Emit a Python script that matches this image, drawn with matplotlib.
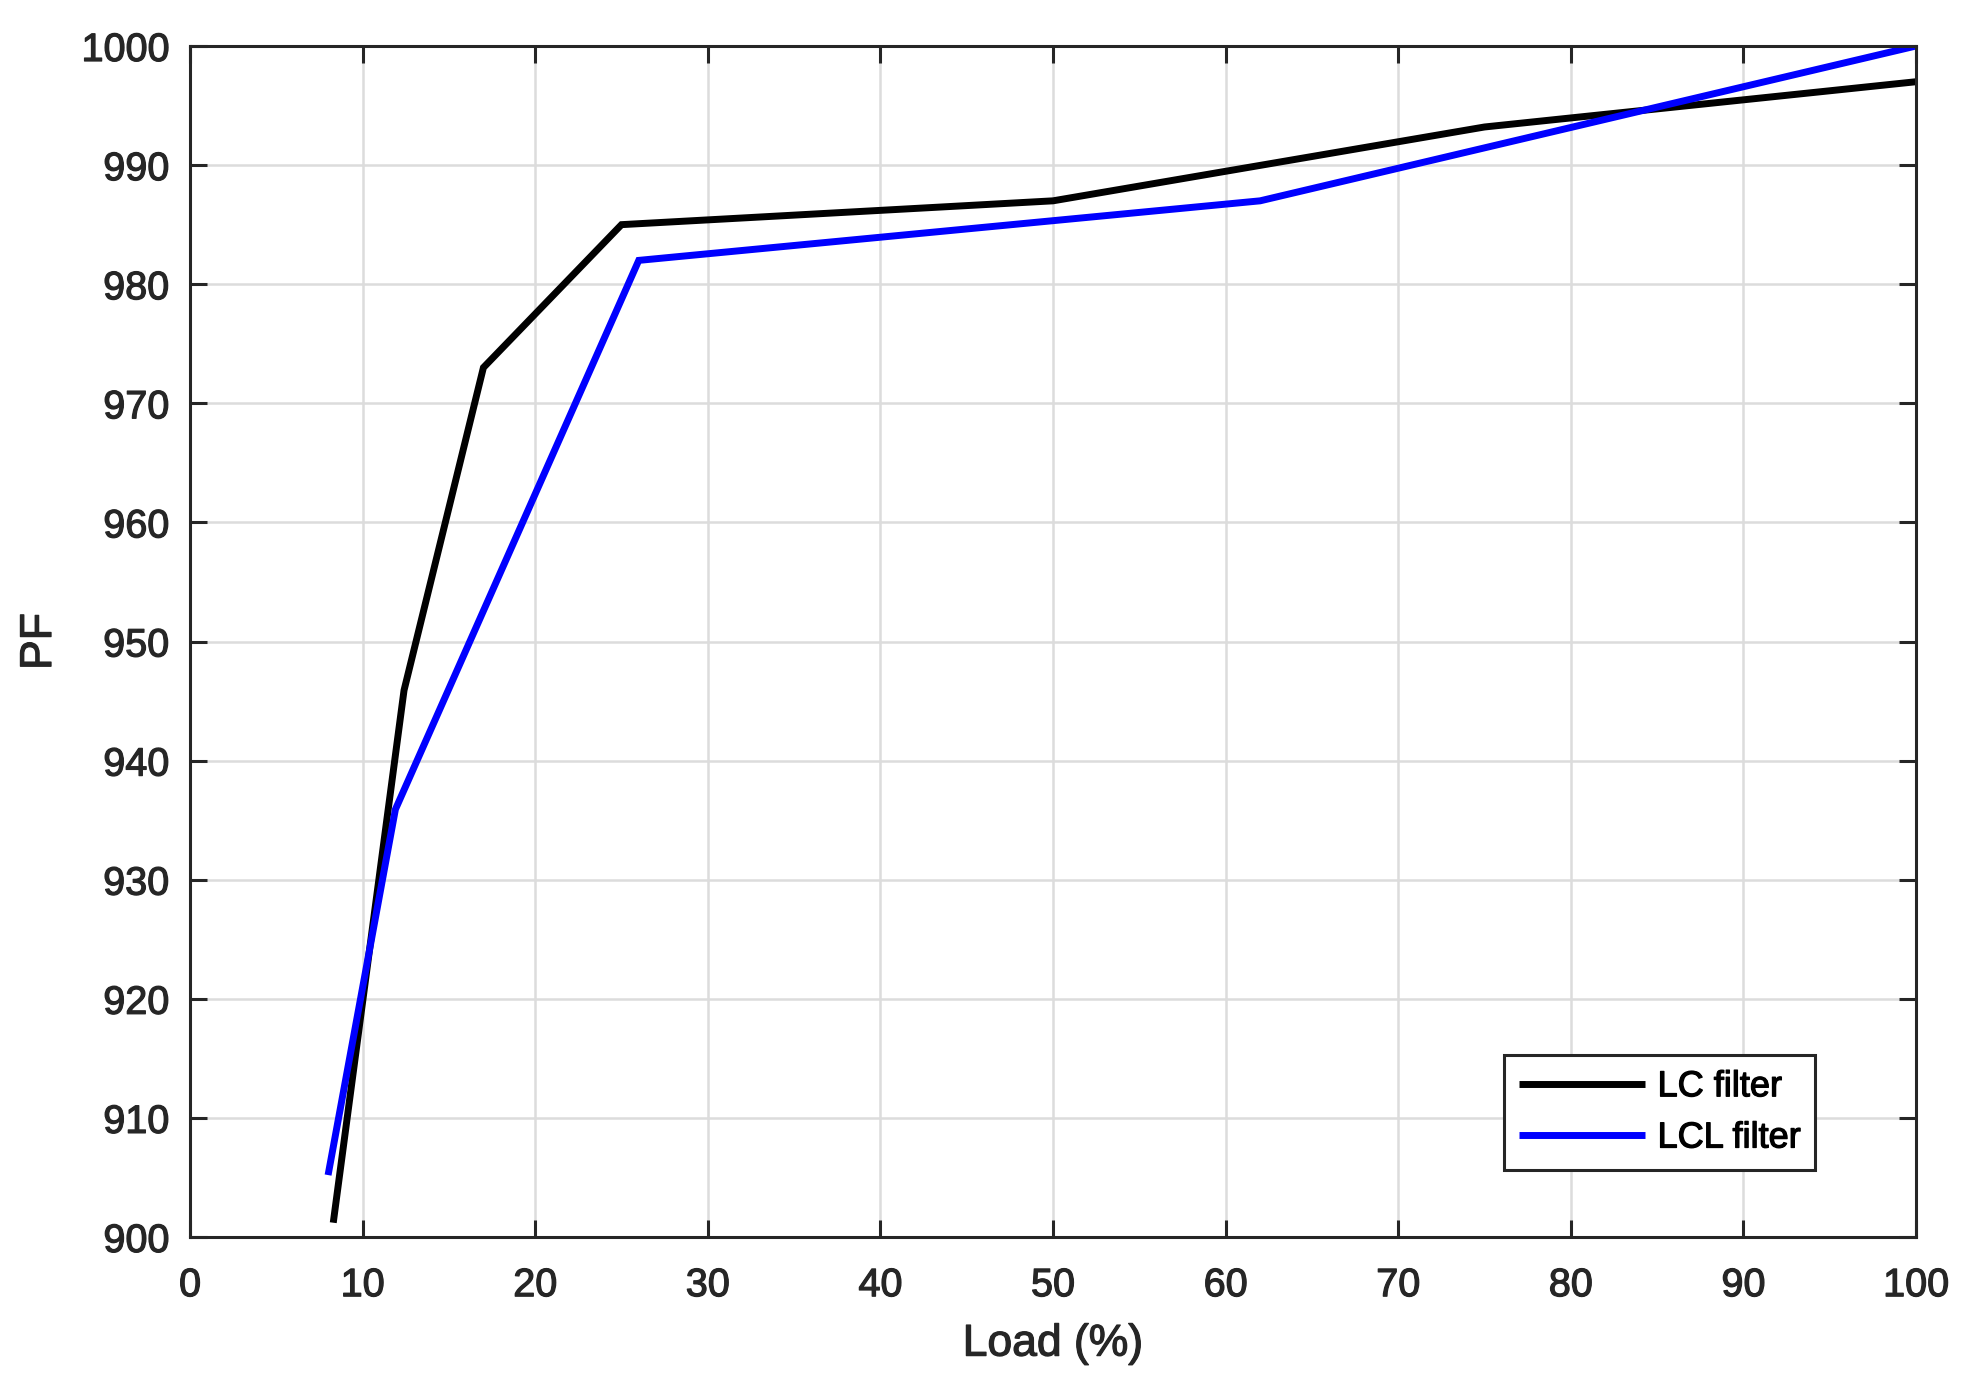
import matplotlib
matplotlib.use("Agg")
import matplotlib.pyplot as plt
import matplotlib.patheffects as pe

plt.rcParams['font.family'] = ['Liberation Sans', 'DejaVu Sans']

# Data
lc_load = [8.3, 12.4, 17, 25, 50, 75, 100]
lc_pf = [901.2, 945.9, 973, 985, 987, 993.2, 997]
lcl_load = [8.0, 11.9, 26, 62, 100]
lcl_pf = [905.2, 935.9, 982, 987, 1000]
xticks = list(range(0, 101, 10))
yticks = list(range(900, 1001, 10))
series_labels = ['LC filter', 'LCL filter']

W, H = 1961, 1383
fig = plt.figure(figsize=(W / 100, H / 100), dpi=100)
ax = fig.add_axes([190 / W, 1 - 1237 / H, (1916 - 190) / W, (1237 - 46) / H])

ax.plot(lc_load, lc_pf, color='black', lw=5.0, label=series_labels[0],
        solid_joinstyle='miter', solid_capstyle='butt')
ax.plot(lcl_load, lcl_pf, color='#0000ff', lw=5.0, label=series_labels[1],
        solid_joinstyle='miter', solid_capstyle='butt')

ax.set_xlim(0, 100)
ax.set_ylim(900, 1000)
ax.set_xticks(xticks)
ax.set_yticks(yticks)
ax.grid(True, color='#dcdcdc', lw=1.8)
ax.set_axisbelow(True)

for s in ax.spines.values():
    s.set_color('#262626')
    s.set_linewidth(2.2)
ax.tick_params(direction='in', length=12, width=2.2, color='#262626',
               labelsize=28.5, labelcolor='#262626', top=True, right=True)
ax.tick_params(axis='x', pad=21)
ax.tick_params(axis='y', pad=15)

ax.set_xlabel('Load (%)', fontsize=32, color='#262626', labelpad=14)
ax.set_ylabel('PF', fontsize=32, color='#262626', labelpad=15.5)

leg = ax.legend(loc='lower right', bbox_to_anchor=(0.9415, 0.0563), borderaxespad=0,
                fontsize=26, fancybox=False, framealpha=1, edgecolor='#262626',
                handlelength=3.5, handletextpad=0.35, labelspacing=0.45, borderpad=0.4)
leg.get_frame().set_linewidth(2.2)
for line in leg.get_lines():
    line.set_linewidth(5.0)
    line.set_solid_capstyle('butt')

stroke = [pe.withStroke(linewidth=0.9, foreground='#262626')]
for t in ax.get_xticklabels() + ax.get_yticklabels() + [ax.xaxis.label, ax.yaxis.label]:
    t.set_path_effects(stroke)
for t in leg.get_texts():
    t.set_path_effects([pe.withStroke(linewidth=0.9, foreground='black')])
    t.set_color('black')

fig.savefig('out.png', dpi=100, facecolor='white')
